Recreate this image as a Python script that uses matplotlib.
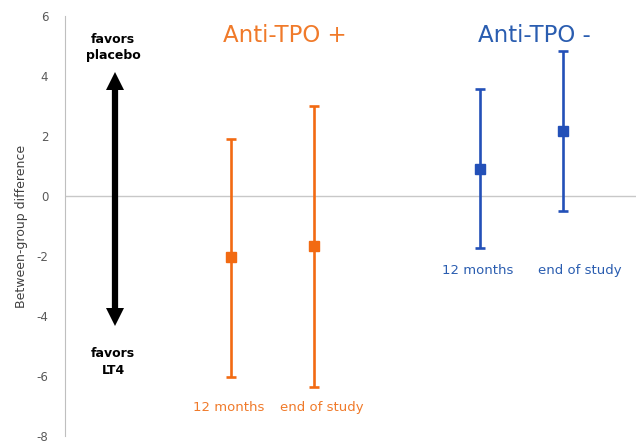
import matplotlib.pyplot as plt

plt.rcParams['axes.unicode_minus'] = False

groups = ['Anti-TPO +', 'Anti-TPO -']
timepoints = ['12 months', 'end of study']
xpos = [2, 3, 5, 6]
means = [-2.03, -1.66, 0.9, 2.16]
upper = [1.9, 3.0, 3.58, 4.83]
lower = [-6.02, -6.36, -1.73, -0.5]
colors = ['#F26A12', '#F26A12', '#2350B8', '#2350B8']
text_colors = ['#F07A2A', '#2A5DB0']
yticks = [-8, -6, -4, -2, 0, 2, 4, 6]

fig = plt.figure(figsize=(6.36, 4.43), dpi=100)
ax = fig.add_axes([0.1022, 0.0158, 0.8978, 0.9481])

ax.axhline(0, color='#C8C8C8', lw=1, zorder=0)

for x, m, u, l, c in zip(xpos, means, upper, lower, colors):
    ax.errorbar(x, m, yerr=[[m - l], [u - m]], fmt='s', color=c, ms=6.5,
                elinewidth=1.9, capsize=3.8, capthick=1.9)

# double arrow: shaft plus two triangle heads
ax.plot([0.6, 0.6], [3.8, -4.0], color='black', lw=4.5, solid_capstyle='butt')
ax.plot(0.6, 3.83, marker='^', color='black', ms=13, markeredgewidth=0)
ax.plot(0.6, -4.03, marker='v', color='black', ms=13, markeredgewidth=0)

ax.text(0.58, 4.95, 'favors\nplacebo', ha='center', va='center', fontsize=9,
        fontweight='bold', linespacing=1.35)
ax.text(0.58, -5.53, 'favors\nLT4', ha='center', va='center', fontsize=9,
        fontweight='bold', linespacing=1.35)

ax.text(2.65, 5.35, groups[0], color=text_colors[0], ha='center', va='center', fontsize=16.5)
ax.text(5.65, 5.35, groups[1], color=text_colors[1], ha='center', va='center', fontsize=16.5)

ax.text(1.97, -7.05, timepoints[0], color=text_colors[0], ha='center', va='center', fontsize=9.5)
ax.text(3.1, -7.05, timepoints[1], color=text_colors[0], ha='center', va='center', fontsize=9.5)
ax.text(4.97, -2.5, timepoints[0], color=text_colors[1], ha='center', va='center', fontsize=9.5)
ax.text(6.2, -2.5, timepoints[1], color=text_colors[1], ha='center', va='center', fontsize=9.5)

ax.set_xlim(0, 6.88)
ax.set_ylim(-8, 6)
ax.set_yticks(yticks)
ax.set_xticks([])
ax.tick_params(axis='y', length=0, pad=12, labelsize=8.5, labelcolor='#595959')
ax.set_ylabel('Between-group difference', fontsize=9, color='#404040', labelpad=6)
for s in ['top', 'right', 'bottom']:
    ax.spines[s].set_visible(False)
ax.spines['left'].set_color('#BFBFBF')

fig.savefig('out.png', dpi=100)
